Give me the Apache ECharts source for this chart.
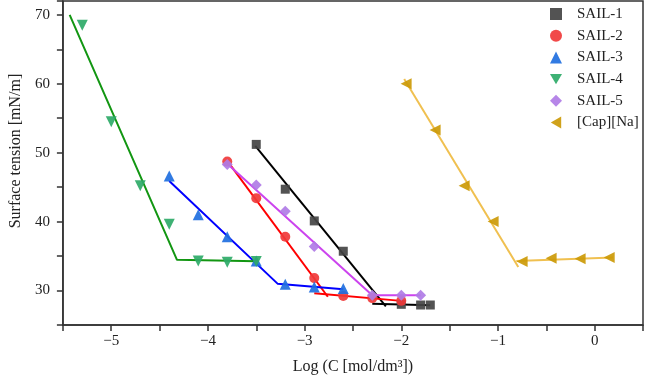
<!DOCTYPE html>
<html>
<head>
<meta charset="utf-8">
<script src="https://cdn.jsdelivr.net/npm/echarts@6/dist/echarts.min.js"></script>
<style>html,body{margin:0;padding:0;background:#fff}#c{width:646px;height:380px}</style>
</head>
<body>
<div id="c"></div>
<script>
// ---- data ----
var sail1X = [-3.5, -3.2, -2.9, -2.6, -2.0, -1.8, -1.7];
var sail1Y = [51.2, 44.7, 40.1, 35.7, 28.0, 27.9, 27.9];
var sail2X = [-3.8, -3.5, -3.2, -2.9, -2.6, -2.3, -2.0];
var sail2Y = [48.7, 43.4, 37.8, 31.8, 29.2, 28.9, 28.5];
var sail3X = [-4.4, -4.1, -3.8, -3.5, -3.2, -2.9, -2.6];
var sail3Y = [46.6, 41.0, 37.8, 34.3, 30.9, 30.5, 30.3];
var sail4X = [-5.3, -5.0, -4.7, -4.4, -4.1, -3.8, -3.5];
var sail4Y = [68.5, 54.5, 45.2, 39.6, 34.3, 34.1, 34.2];
var sail5X = [-3.8, -3.5, -3.2, -2.9, -2.3, -2.0, -1.8];
var sail5Y = [48.3, 45.3, 41.5, 36.4, 29.3, 29.3, 29.3];
var capX = [-1.95, -1.65, -1.35, -1.05, -0.75, -0.45, -0.15, 0.15];
var capY = [60.0, 53.3, 45.2, 40.0, 34.2, 34.7, 34.6, 34.8];

// fitted lines (segments)
var fit1a = [[-3.51, 51.0], [-2.16, 27.7]];
var fit1b = [[-2.3, 28.1], [-1.7, 27.85]];
var fit2a = [[-3.8, 48.8], [-2.76, 29.1]];
var fit2b = [[-2.9, 29.6], [-2.0, 28.5]];
var fit3 = [[-4.4, 45.9], [-3.28, 31.0], [-2.6, 30.2]];
var fit4 = [[-5.43, 70.0], [-4.32, 34.45], [-3.5, 34.25]];
var fit5 = [[-3.8, 48.4], [-2.3, 29.3], [-1.8, 29.3]];
var fitCapA = [[-1.97, 60.7], [-0.79, 33.4]];
var fitCapB = [[-0.81, 34.3], [0.19, 34.8]];

var names = ['SAIL-1', 'SAIL-2', 'SAIL-3', 'SAIL-4', 'SAIL-5', '[Cap][Na]'];
var xTicks = { min: -5.5, max: 0.5, step: 0.5 };
var yTicks = { min: 25, max: 72, step: 5 };

function zip(xs, ys) { return xs.map(function (x, i) { return [x, ys[i]]; }); }

var font = 'Liberation Serif, Times New Roman, serif';
var downTri = 'path://M0,0L10,0L5,8.66Z';
var leftTri = 'path://M8.66,0L8.66,10L0,5Z';

function scatter(name, xs, ys, symbol, size, color, rot) {
  return {
    name: name, type: 'scatter', data: zip(xs, ys), symbol: symbol, symbolSize: size,
    symbolRotate: rot || 0, itemStyle: { color: color, opacity: 0.92 }, z: 5
  };
}
function fit(id, pts, color) {
  return {
    name: id, type: 'line', data: pts, showSymbol: false, symbol: 'none',
    lineStyle: { color: color, width: 2 }, z: 3, silent: true
  };
}

var chart = echarts.init(document.getElementById('c'), null, { renderer: 'canvas' });
chart.setOption({
  animation: false,
  grid: { left: 49, right: 1, top: 1, bottom: 53, show: true, borderColor: '#333', borderWidth: 1.5, containLabel: false },
  legend: {
    data: [
      { name: names[0], icon: 'rect' },
      { name: names[1], icon: 'circle' },
      { name: names[2], icon: 'triangle' },
      { name: names[3], icon: downTri },
      { name: names[4], icon: 'diamond' },
      { name: names[5], icon: leftTri }
    ],
    orient: 'vertical', left: 550, top: 6.5, padding: 0,
    itemWidth: 12, itemHeight: 12, itemGap: 6.7,
    textStyle: { fontFamily: font, fontSize: 15, color: '#222', padding: [0, 0, 0, 10] }
  },
  xAxis: {
    type: 'value', min: xTicks.min, max: xTicks.max, interval: xTicks.step,
    name: 'Log (C [mol/dm³])', nameLocation: 'middle', nameGap: 34,
    nameTextStyle: { fontFamily: font, fontSize: 16, color: '#222' },
    axisLine: { show: true, onZero: false, lineStyle: { color: '#333', width: 1.5 } },
    axisTick: { show: true, length: 6, lineStyle: { color: '#333', width: 1.5 } },
    splitLine: { show: false },
    axisLabel: {
      fontFamily: font, fontSize: 15, color: '#222', margin: 9,
      formatter: function (v) { return Math.abs(v - Math.round(v)) < 1e-9 ? String(Math.round(v)).replace('-', '\u2212') : ''; }
    }
  },
  yAxis: {
    type: 'value', min: yTicks.min, max: yTicks.max, interval: yTicks.step,
    name: 'Surface tension [mN/m]', nameLocation: 'middle', nameGap: 32,
    nameTextStyle: { fontFamily: font, fontSize: 16, color: '#222', padding: [0, 0, 0, 24] },
    axisLine: { show: true, onZero: false, lineStyle: { color: '#333', width: 1.5 } },
    axisTick: { show: true, length: 6, lineStyle: { color: '#333', width: 1.5 } },
    splitLine: { show: false },
    axisLabel: {
      fontFamily: font, fontSize: 15, color: '#222', margin: 13,
      formatter: function (v) { return (Math.abs(v % 10) < 1e-9) ? String(v) : ''; }
    }
  },
  series: [
    fit('fit1a', fit1a, '#000000'), fit('fit1b', fit1b, '#000000'),
    fit('fit2a', fit2a, '#ff0000'), fit('fit2b', fit2b, '#ff0000'),
    fit('fit3', fit3, '#0000ff'),
    fit('fit4', fit4, '#129612'),
    fit('fit5', fit5, '#cc44ee'),
    fit('fitCapA', fitCapA, '#f0c050'), fit('fitCapB', fitCapB, '#f0c050'),
    scatter(names[0], sail1X, sail1Y, 'rect', 9, '#444444'),
    scatter(names[1], sail2X, sail2Y, 'circle', 10, '#f03a3a'),
    scatter(names[2], sail3X, sail3Y, 'triangle', 11, '#1f6fe0'),
    scatter(names[3], sail4X, sail4Y, downTri, 11, '#2eaa68'),
    scatter(names[4], sail5X, sail5Y, 'diamond', 11, '#b07ce6'),
    scatter(names[5], capX, capY, leftTri, 11, '#cc9a08')
  ]
});
</script>
</body>
</html>
